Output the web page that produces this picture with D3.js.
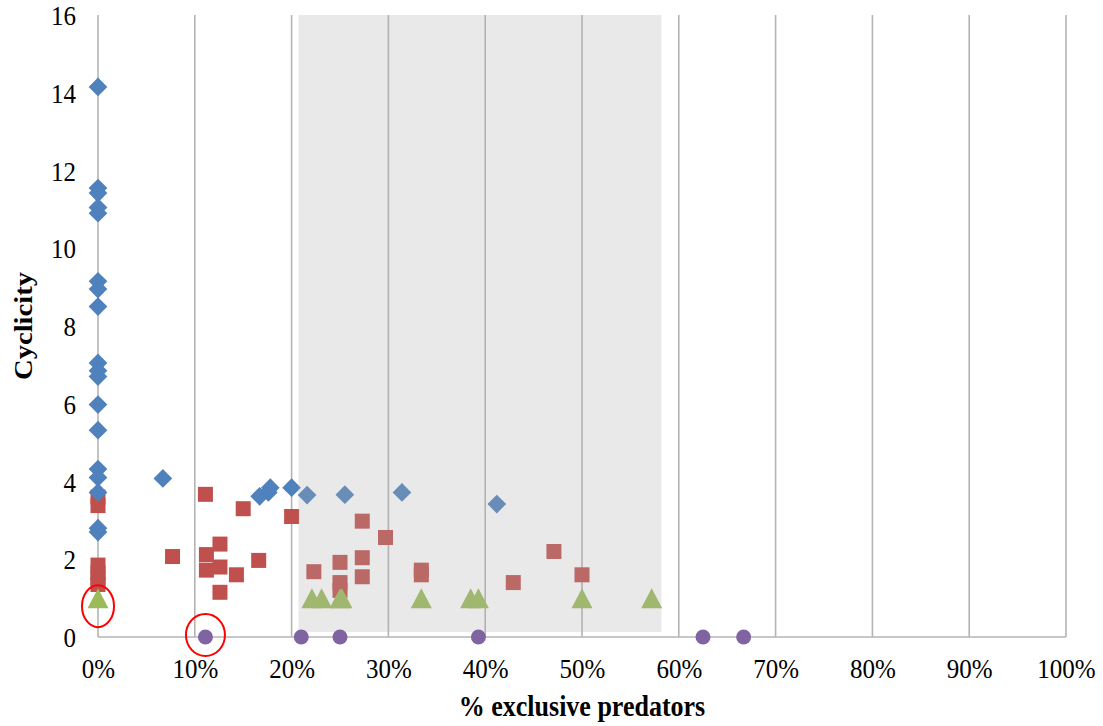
<!DOCTYPE html>
<html>
<head>
<meta charset="utf-8">
<script src="https://cdn.jsdelivr.net/npm/d3@7"></script>
<style>
  html, body { margin: 0; padding: 0; background: #fff; }
  svg { display: block; }
  text { font-family: "Liberation Serif", "Times New Roman", serif; fill: #000; }
</style>
</head>
<body>
<svg id="chart" width="1103" height="726"></svg>
<script>
// Cyclicity against share of exclusive predators, four groups of food webs
const xTicks = [0, 10, 20, 30, 40, 50, 60, 70, 80, 90, 100];
const yTicks = [0, 2, 4, 6, 8, 10, 12, 14, 16];

// Group 1 (diamonds): [% exclusive predators, cyclicity]
const seriesBlue = [
  [0, 14.15], [0, 11.55], [0, 11.42], [0, 11.05], [0, 10.9],
  [0, 9.15], [0, 8.95], [0, 8.5], [0, 7.05], [0, 6.85], [0, 6.7],
  [0, 5.98], [0, 5.32], [0, 4.32], [0, 4.1], [0, 3.72], [0, 2.8], [0, 2.7],
  [6.7, 4.08], [16.7, 3.62], [17.6, 3.72], [17.8, 3.84], [20.0, 3.84],
  [21.6, 3.65], [25.5, 3.66], [31.4, 3.72], [41.2, 3.42]
];
// Group 2 (squares)
const seriesRed = [
  [0, 3.6], [0, 3.38], [0, 1.85], [0, 1.65], [0, 1.5], [0, 1.35],
  [7.7, 2.07], [11.1, 3.67], [11.2, 2.12], [11.2, 1.72], [12.6, 2.39],
  [12.6, 1.8], [12.6, 1.15], [14.3, 1.6], [15.0, 3.3], [16.6, 1.97],
  [20.0, 3.1], [22.3, 1.68], [25.0, 1.92], [25.0, 1.4], [25.0, 1.2],
  [27.3, 2.98], [27.3, 2.04], [27.3, 1.55], [29.7, 2.56], [33.4, 1.72],
  [33.4, 1.6], [42.9, 1.4], [47.1, 2.2], [50.0, 1.6]
];
// Group 3 (triangles)
const seriesGreen = [
  [0, 1], [22.1, 1], [23.1, 1], [25.0, 1], [25.2, 1], [33.4, 1],
  [38.5, 1], [39.3, 1], [50.0, 1], [57.2, 1]
];
// Group 4 (circles)
const seriesPurple = [
  [11.1, 0], [21.0, 0], [25.0, 0], [39.3, 0], [62.5, 0], [66.7, 0]
];
// Shaded band and circled points
const bandX = [20.7, 58.2];
const bandY = [0.13, 16];
const highlighted = [[0, 1], [11.1, 0]];

const svg = d3.select("#chart");
const margin = { left: 98, right: 37, top: 15, bottom: 89 };
const W = 1103, H = 726;
const stretch = 1.1; // text is drawn a little taller than wide

const x = d3.scaleLinear().domain([0, 100]).range([margin.left, W - margin.right]);
const y = d3.scaleLinear().domain([0, 16]).range([H - margin.bottom, margin.top]);

const gridColor = "#b4b4b4";

// vertical gridlines
svg.append("g")
  .selectAll("line")
  .data(xTicks.slice(1))
  .join("line")
  .attr("x1", d => x(d)).attr("x2", d => x(d))
  .attr("y1", y(16)).attr("y2", y(0))
  .attr("stroke", gridColor).attr("stroke-width", 1.6);

// axes lines
svg.append("line")
  .attr("x1", x(0)).attr("x2", x(0)).attr("y1", y(16)).attr("y2", y(0))
  .attr("stroke", gridColor).attr("stroke-width", 1.6);
svg.append("line")
  .attr("x1", x(0)).attr("x2", x(100)).attr("y1", y(0)).attr("y2", y(0))
  .attr("stroke", gridColor).attr("stroke-width", 1.6);

// tick labels via d3 axes
const xAxis = d3.axisBottom(x).tickValues(xTicks).tickFormat(d => d + "%").tickSize(0);
const gx = svg.append("g").attr("transform", `translate(0,${y(0)})`).call(xAxis);
gx.select(".domain").remove();
gx.selectAll("text")
  .attr("y", 0).attr("dy", null)
  .attr("transform", `translate(0,41) scale(1,${stretch})`)
  .style("font-size", "25px").style("font-family", "Liberation Serif");

const yAxis = d3.axisLeft(y).tickValues(yTicks).tickSize(0);
const gy = svg.append("g").attr("transform", `translate(${x(0)},0)`).call(yAxis);
gy.select(".domain").remove();
gy.selectAll("text")
  .attr("x", 0).attr("y", 0).attr("dy", null)
  .attr("transform", `translate(-22,9.5) scale(1,${stretch})`)
  .style("font-size", "25px").style("font-family", "Liberation Serif");

// markers
const gPts = svg.append("g");

gPts.selectAll(".sq")
  .data(seriesRed).join("rect").attr("class", "sq")
  .attr("x", d => x(d[0]) - 7.5).attr("y", d => y(d[1]) - 7.5)
  .attr("width", 15).attr("height", 15)
  .attr("fill", "#c0504d");

gPts.selectAll(".dm")
  .data(seriesBlue).join("path").attr("class", "dm")
  .attr("transform", d => `translate(${x(d[0])},${y(d[1])}) rotate(45)`)
  .attr("d", d3.symbol().type(d3.symbolSquare).size(175)())
  .attr("fill", "#4f81bd");

gPts.selectAll(".tr")
  .data(seriesGreen).join("path").attr("class", "tr")
  .attr("transform", d => `translate(${x(d[0])},${y(d[1])})`)
  .attr("d", "M0,-10L10.5,10L-10.5,10Z")
  .attr("fill", "#9bbb59");

// translucent shaded band laid over the markers
svg.append("rect")
  .attr("x", x(bandX[0])).attr("width", x(bandX[1]) - x(bandX[0]))
  .attr("y", y(bandY[1])).attr("height", y(bandY[0]) - y(bandY[1]))
  .attr("fill", "rgb(173,173,173)").attr("fill-opacity", 0.27);

svg.append("g").selectAll("circle")
  .data(seriesPurple).join("circle")
  .attr("cx", d => x(d[0])).attr("cy", d => y(d[1]))
  .attr("r", 7.5).attr("fill", "#8064a2");

// red rings around highlighted points
svg.append("g").selectAll("ellipse")
  .data(highlighted).join("ellipse")
  .attr("cx", d => x(d[0]))
  .attr("cy", (d, i) => y(d[1]) + (i === 0 ? 8 : -2))
  .attr("rx", (d, i) => i === 0 ? 16 : 19.5)
  .attr("ry", 21)
  .attr("fill", "none").attr("stroke", "#ff0000").attr("stroke-width", 2);

// axis titles
svg.append("text")
  .attr("transform", `translate(${(x(0) + x(100)) / 2},716) scale(1,${stretch})`)
  .attr("text-anchor", "middle")
  .style("font-size", "26px").style("font-weight", "bold")
  .text("% exclusive predators");

svg.append("text")
  .attr("transform", `translate(32,${(y(0) + y(16)) / 2}) rotate(-90) scale(${stretch},1)`)
  .attr("text-anchor", "middle")
  .style("font-size", "26px").style("font-weight", "bold")
  .text("Cyclicity");
</script>
</body>
</html>
